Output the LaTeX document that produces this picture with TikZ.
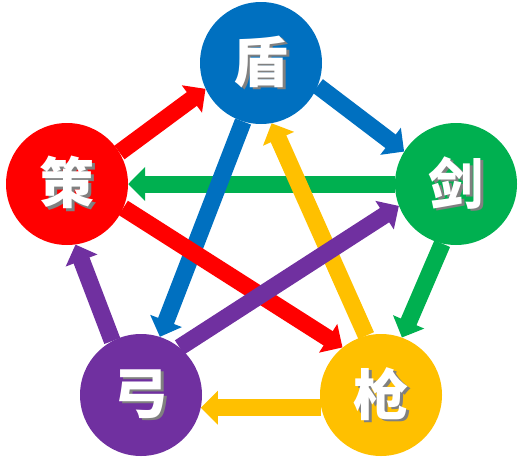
\documentclass[tikz,border=0pt]{standalone}
\usepackage{fontspec}
\newfontfamily\cjk{Noto Sans CJK SC}
\usetikzlibrary{arrows.meta,backgrounds}
\definecolor{cblue}{HTML}{0070C0}
\definecolor{cgreen}{HTML}{00B050}
\definecolor{cyellow}{HTML}{FFC000}
\definecolor{cpurple}{HTML}{7030A0}
\definecolor{cred}{HTML}{FF0000}
\newcommand\shtext[1]{\makebox[0pt][l]{\hspace{2.5pt}\raisebox{-2.5pt}{\textcolor{black!50}{#1}}}#1}
\tikzset{
  ball/.style={circle, minimum size=122pt, inner sep=0pt, text=white,
    font=\cjk\bfseries\fontsize{55}{55}\selectfont},
  fat/.style={line width=17pt, -{Triangle[length=17pt,width=33pt]}},
}
\begin{document}
\begin{tikzpicture}[x=1pt,y=-1pt]
\useasboundingbox (0,0) rectangle (527,463);
\node[ball, fill=cblue]   (du)    at (261,63)  {\shtext{盾}};
\node[ball, fill=cgreen]  (jian)  at (456,184) {\shtext{剑}};
\node[ball, fill=cyellow] (qiang) at (381,395) {\shtext{枪}};
\node[ball, fill=cpurple] (gong)  at (141,395) {\shtext{弓}};
\node[ball, fill=cred]    (ce)    at (67,184)  {\shtext{策}};
\begin{pgfonlayer}{background}
% outer ring
\draw[fat, cred]    (ce.31)     -- (du.205);
\draw[fat, cblue]   (du.-22)    -- (jian.148);
\draw[fat, cgreen]  (jian.257)  -- (qiang.70);
\draw[fat, cyellow] (qiang.192) -- (gong.-12);
\draw[fat, cpurple] (gong.118)  -- (ce.278);
% inner star
\draw[fat, cgreen]  (jian.180)  -- (ce.0);
\draw[fat, cblue]   (du.253)    -- (gong.72);
\draw[fat, cyellow] (qiang.104) -- (du.280);
\draw[fat, cred]    (ce.-23)    -- (qiang.129);
\draw[fat, cpurple] (gong.51)   -- (jian.201);
\end{pgfonlayer}
\end{tikzpicture}
\end{document}
